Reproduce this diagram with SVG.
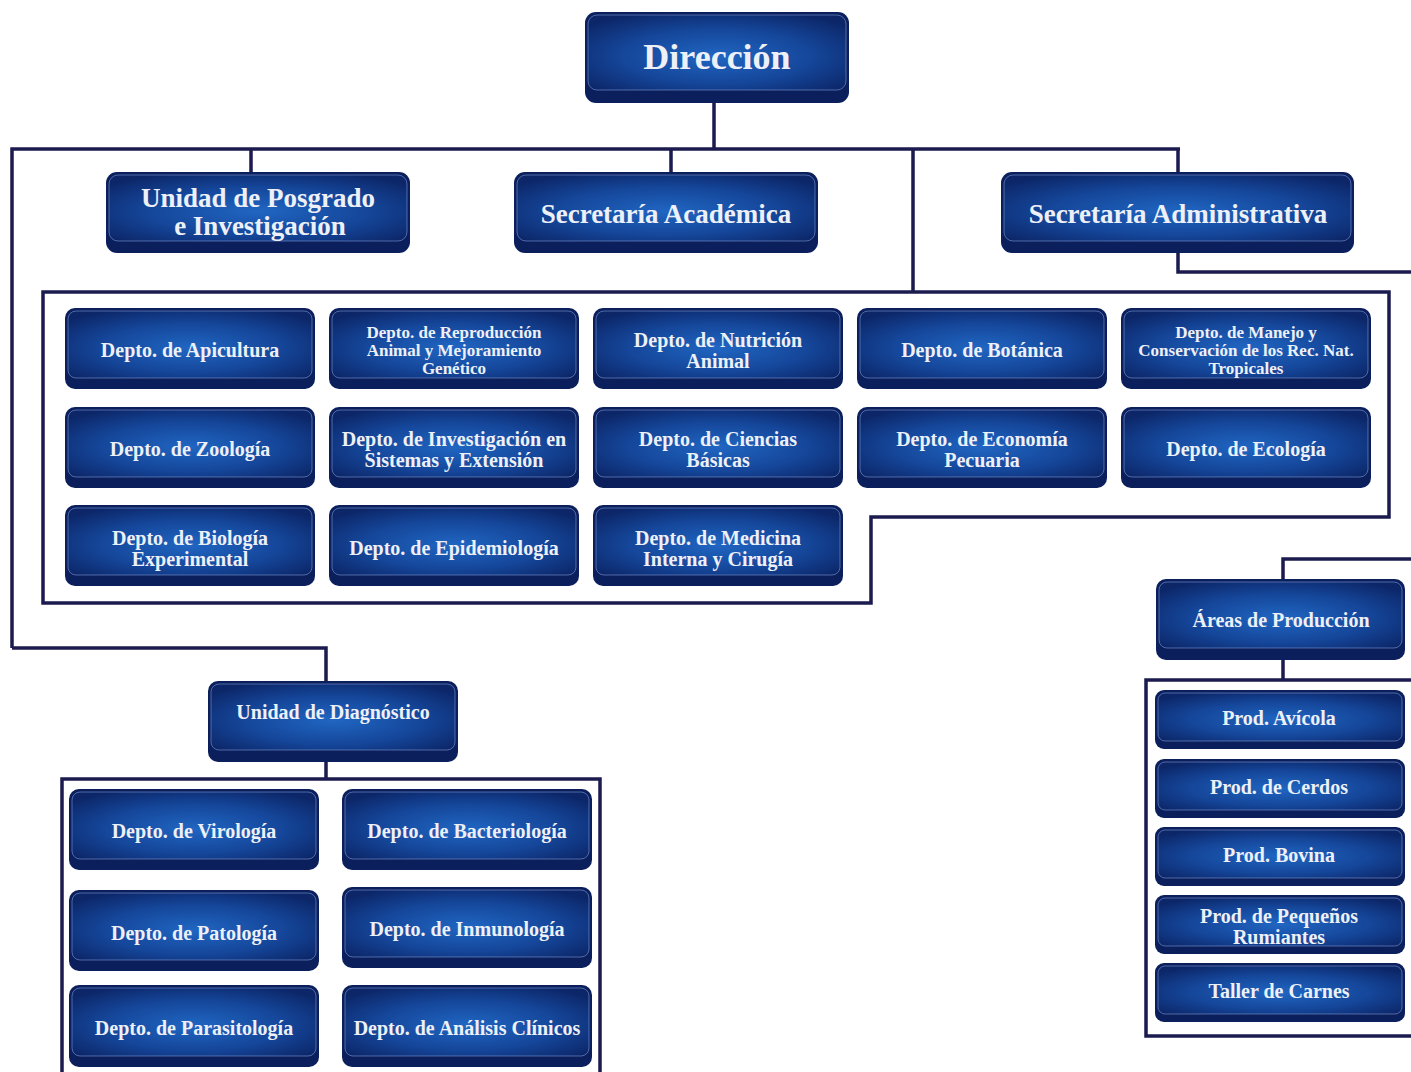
<svg xmlns="http://www.w3.org/2000/svg" width="1411" height="1072" viewBox="0 0 1411 1072">
<defs>
<radialGradient id="g" cx="50%" cy="55%" r="65%">
<stop offset="0" stop-color="#2066c2"/>
<stop offset="0.55" stop-color="#15479b"/>
<stop offset="1" stop-color="#0c2668"/>
</radialGradient>
<style>
.o{fill:#0b1f5c}
.i{fill:url(#g);stroke:#7d9ad6;stroke-width:1;stroke-opacity:0.6}
.t{font-family:"Liberation Serif","DejaVu Serif",serif;font-weight:bold;fill:#eef0f8;text-anchor:middle;dominant-baseline:central}
.s19{font-size:20px}
.s16{font-size:17px}
.s26{font-size:27px}
.c{fill:none;stroke:#1b1b4f;stroke-width:3.5;stroke-linejoin:miter}
</style>
</defs>
<rect width="1411" height="1072" fill="#ffffff"/>
<g id="connectors">
<path class="c" d="M714,103 V149"/>
<path class="c" d="M12,648 V149 H1180"/>
<path class="c" d="M251,149 V172 M671,149 V172 M913,149 V292 M1178,149 V172"/>
<path class="c" d="M12,648 H326 V681"/>
<path class="c" d="M1178,253 V272 H1415"/>
<path class="c" d="M43,292 H1389 V517 H871 V603 H43 Z"/>
<path class="c" d="M1415,559 H1283 V579"/>
<path class="c" d="M1283,660 V680"/>
<path class="c" d="M1420,680 H1146 V1036 H1420"/>
<path class="c" d="M326,762 V779"/>
<path class="c" d="M62,1080 V779 H600 V1080"/>
</g>
<g id="direccion"><rect class="o" x="585" y="12" width="264" height="91" rx="11"/><rect class="i" x="588" y="15" width="258" height="75" rx="9"/><text class="t" x="717" y="57" font-size="36">Dirección</text></g>
<g id="posgrado"><rect class="o" x="106" y="172" width="304" height="81" rx="11"/><rect class="i" x="109" y="175" width="298" height="66" rx="9"/><text class="t s26" x="258" y="198">Unidad de Posgrado</text><text class="t s26" x="260" y="226">e Investigación</text></g>
<g id="academica"><rect class="o" x="514" y="172" width="304" height="81" rx="11"/><rect class="i" x="517" y="175" width="298" height="66" rx="9"/><text class="t s26" x="666" y="214">Secretaría Académica</text></g>
<g id="administrativa"><rect class="o" x="1001" y="172" width="353" height="81" rx="11"/><rect class="i" x="1004" y="175" width="347" height="66" rx="9"/><text class="t s26" x="1178" y="214">Secretaría Administrativa</text></g>

<g id="apicultura"><rect class="o" x="65" y="308" width="250" height="81" rx="10"/><rect class="i" x="68" y="311" width="244" height="67" rx="8"/><text class="t s19" x="190" y="350">Depto. de Apicultura</text></g>
<g id="reproduccion"><rect class="o" x="329" y="308" width="250" height="81" rx="10"/><rect class="i" x="332" y="311" width="244" height="67" rx="8"/><text class="t s16" x="454" y="332">Depto. de Reproducción</text><text class="t s16" x="454" y="350">Animal y Mejoramiento</text><text class="t s16" x="454" y="368">Genético</text></g>
<g id="nutricion"><rect class="o" x="593" y="308" width="250" height="81" rx="10"/><rect class="i" x="596" y="311" width="244" height="67" rx="8"/><text class="t s19" x="718" y="340">Depto. de Nutrición</text><text class="t s19" x="718" y="361">Animal</text></g>
<g id="botanica"><rect class="o" x="857" y="308" width="250" height="81" rx="10"/><rect class="i" x="860" y="311" width="244" height="67" rx="8"/><text class="t s19" x="982" y="350">Depto. de Botánica</text></g>
<g id="manejo"><rect class="o" x="1121" y="308" width="250" height="81" rx="10"/><rect class="i" x="1124" y="311" width="244" height="67" rx="8"/><text class="t s16" x="1246" y="332">Depto. de Manejo y</text><text class="t s16" x="1246" y="350">Conservación de los Rec. Nat.</text><text class="t s16" x="1246" y="368">Tropicales</text></g>

<g id="zoologia"><rect class="o" x="65" y="407" width="250" height="81" rx="10"/><rect class="i" x="68" y="410" width="244" height="67" rx="8"/><text class="t s19" x="190" y="449">Depto. de Zoología</text></g>
<g id="investigacion"><rect class="o" x="329" y="407" width="250" height="81" rx="10"/><rect class="i" x="332" y="410" width="244" height="67" rx="8"/><text class="t s19" x="454" y="439">Depto. de Investigación en</text><text class="t s19" x="454" y="460">Sistemas y Extensión</text></g>
<g id="ciencias"><rect class="o" x="593" y="407" width="250" height="81" rx="10"/><rect class="i" x="596" y="410" width="244" height="67" rx="8"/><text class="t s19" x="718" y="439">Depto. de Ciencias</text><text class="t s19" x="718" y="460">Básicas</text></g>
<g id="economia"><rect class="o" x="857" y="407" width="250" height="81" rx="10"/><rect class="i" x="860" y="410" width="244" height="67" rx="8"/><text class="t s19" x="982" y="439">Depto. de Economía</text><text class="t s19" x="982" y="460">Pecuaria</text></g>
<g id="ecologia"><rect class="o" x="1121" y="407" width="250" height="81" rx="10"/><rect class="i" x="1124" y="410" width="244" height="67" rx="8"/><text class="t s19" x="1246" y="449">Depto. de Ecología</text></g>

<g id="biologia"><rect class="o" x="65" y="505" width="250" height="81" rx="10"/><rect class="i" x="68" y="508" width="244" height="67" rx="8"/><text class="t s19" x="190" y="538">Depto. de Biología</text><text class="t s19" x="190" y="559">Experimental</text></g>
<g id="epidemiologia"><rect class="o" x="329" y="505" width="250" height="81" rx="10"/><rect class="i" x="332" y="508" width="244" height="67" rx="8"/><text class="t s19" x="454" y="548">Depto. de Epidemiología</text></g>
<g id="medicina"><rect class="o" x="593" y="505" width="250" height="81" rx="10"/><rect class="i" x="596" y="508" width="244" height="67" rx="8"/><text class="t s19" x="718" y="538">Depto. de Medicina</text><text class="t s19" x="718" y="559">Interna y Cirugía</text></g>

<g id="diagnostico"><rect class="o" x="208" y="681" width="250" height="81" rx="10"/><rect class="i" x="211" y="684" width="244" height="66" rx="8"/><text class="t s19" x="333" y="712">Unidad de Diagnóstico</text></g>
<g id="virologia"><rect class="o" x="69" y="789" width="250" height="81" rx="10"/><rect class="i" x="72" y="792" width="244" height="67" rx="8"/><text class="t s19" x="194" y="831">Depto. de Virología</text></g>
<g id="bacteriologia"><rect class="o" x="342" y="789" width="250" height="81" rx="10"/><rect class="i" x="345" y="792" width="244" height="67" rx="8"/><text class="t s19" x="467" y="831">Depto. de Bacteriología</text></g>
<g id="patologia"><rect class="o" x="69" y="890" width="250" height="81" rx="10"/><rect class="i" x="72" y="893" width="244" height="67" rx="8"/><text class="t s19" x="194" y="933">Depto. de Patología</text></g>
<g id="inmunologia"><rect class="o" x="342" y="887" width="250" height="81" rx="10"/><rect class="i" x="345" y="890" width="244" height="67" rx="8"/><text class="t s19" x="467" y="929">Depto. de Inmunología</text></g>
<g id="parasitologia"><rect class="o" x="69" y="985" width="250" height="82" rx="10"/><rect class="i" x="72" y="988" width="244" height="68" rx="8"/><text class="t s19" x="194" y="1028">Depto. de Parasitología</text></g>
<g id="analisis"><rect class="o" x="342" y="985" width="250" height="82" rx="10"/><rect class="i" x="345" y="988" width="244" height="68" rx="8"/><text class="t s19" x="467" y="1028">Depto. de Análisis Clínicos</text></g>

<g id="areas"><rect class="o" x="1156" y="579" width="249" height="81" rx="10"/><rect class="i" x="1159" y="582" width="243" height="66" rx="8"/><text class="t s19" x="1281" y="620">Áreas de Producción</text></g>
<g id="avicola"><rect class="o" x="1155" y="690" width="250" height="59" rx="9"/><rect class="i" x="1158" y="693" width="244" height="48" rx="7"/><text class="t s19" x="1279" y="718">Prod. Avícola</text></g>
<g id="cerdos"><rect class="o" x="1155" y="759" width="250" height="59" rx="9"/><rect class="i" x="1158" y="762" width="244" height="48" rx="7"/><text class="t s19" x="1279" y="787">Prod. de Cerdos</text></g>
<g id="bovina"><rect class="o" x="1155" y="827" width="250" height="59" rx="9"/><rect class="i" x="1158" y="830" width="244" height="48" rx="7"/><text class="t s19" x="1279" y="855">Prod. Bovina</text></g>
<g id="pequenos"><rect class="o" x="1155" y="895" width="250" height="59" rx="9"/><rect class="i" x="1158" y="898" width="244" height="48" rx="7"/><text class="t s19" x="1279" y="916">Prod. de Pequeños</text><text class="t s19" x="1279" y="937">Rumiantes</text></g>
<g id="taller"><rect class="o" x="1155" y="963" width="250" height="59" rx="9"/><rect class="i" x="1158" y="966" width="244" height="48" rx="7"/><text class="t s19" x="1279" y="991">Taller de Carnes</text></g>
</svg>
